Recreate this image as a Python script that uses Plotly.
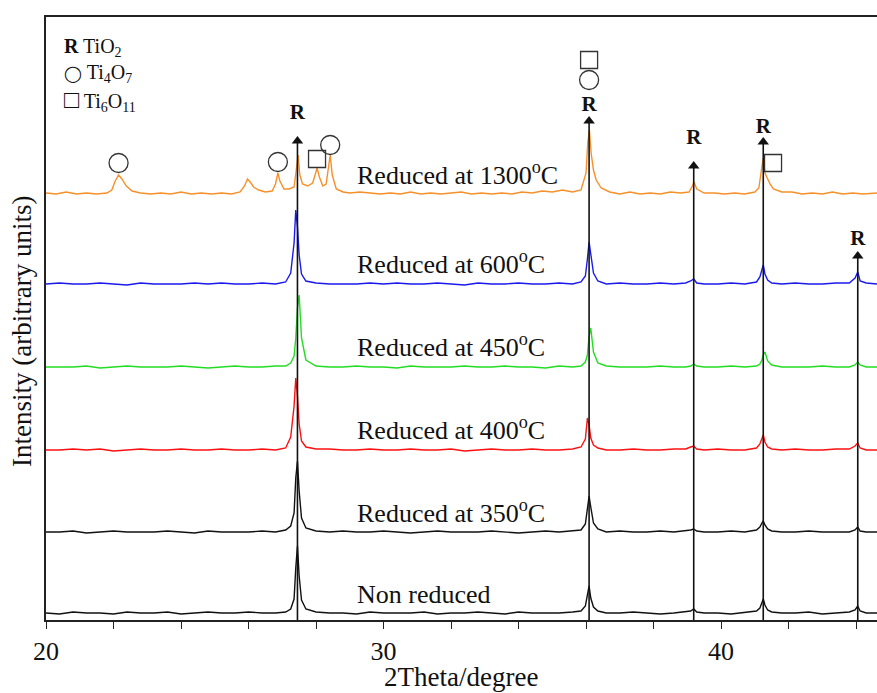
import plotly.graph_objects as go

# ---------------- data ----------------
# 2theta grid shared by the rutile-only patterns
two_theta = [
    20.0, 20.4, 20.8, 21.2, 21.6, 22.0, 22.4, 22.8, 23.2, 23.6, 24.0, 24.4, 24.8, 25.2, 25.6, 26.0, 26.4, 26.8, 27.1,
    27.25, 27.35, 27.40, 27.45, 27.50, 27.57, 27.7,
    28.0, 28.4, 28.8, 29.2, 29.6, 30.0, 30.4, 30.8, 31.2, 31.6, 32.0, 32.4, 32.8, 33.2, 33.6, 34.0, 34.4, 34.8, 35.2, 35.6, 35.85,
    35.98, 36.04, 36.09, 36.14, 36.22, 36.35,
    36.6, 37.0, 37.4, 37.8, 38.2, 38.6, 38.95,
    39.1, 39.19, 39.28,
    39.5, 39.9, 40.3, 40.7, 41.05,
    41.15, 41.21, 41.25, 41.3, 41.38, 41.5,
    41.8, 42.2, 42.6, 43.0, 43.4, 43.8,
    43.97, 44.05, 44.12,
    44.3, 44.62,
]

non_reduced = [
    1, 0, 2, 1, 1, 0, 2, 1, 1, 2, 0, 1, 2, 1, 1, 2, 1, 1, 2,
    5, 15, 46, 68, 38, 14, 5,
    2, 1, 1, 0, 2, 1, 1, 1, 2, 0, 1, 1, 2, 1, 0, 2, 1, 1, 1, 2, 3,
    8, 18, 28, 16, 7, 3,
    1, 1, 2, 1, 0, 1, 2,
    3, 5, 2,
    1, 1, 0, 2, 3,
    6, 11, 15, 9, 4, 2,
    1, 1, 2, 0, 1, 2,
    4, 8, 3,
    1, 1,
]

reduced_350 = [
    1, 1, 2, 0, 1, 2, 1, 1, 1, 2, 1, 0, 2, 1, 1, 1, 2, 1, 3,
    7, 20, 55, 72, 42, 15, 5,
    2, 1, 2, 1, 1, 2, 1, 0, 1, 2, 1, 1, 1, 2, 1, 0, 1, 2, 1, 2, 3,
    9, 24, 37, 26, 10, 4,
    1, 2, 1, 1, 2, 1, 2,
    3, 4, 2,
    1, 1, 2, 1, 3,
    6, 10, 12, 8, 4, 2,
    1, 1, 2, 1, 1, 1,
    3, 6, 2,
    1, 1,
]

reduced_400 = [
    1, 1, 2, 1, 2, 0, 1, 2, 1, 1, 2, 1, 1, 2, 1, 1, 2, 1, 3,
    14, 45, 73, 55, 27, 10, 4,
    2, 2, 1, 1, 2, 1, 1, 2, 1, 1, 2, 0, 1, 2, 1, 1, 2, 1, 1, 2, 4,
    12, 33, 26, 13, 6, 3,
    1, 1, 2, 1, 1, 2, 2,
    4, 5, 2,
    1, 2, 1, 1, 3,
    7, 12, 16, 9, 4, 2,
    1, 2, 1, 1, 2, 2,
    5, 8, 3,
    1, 1,
]

reduced_450 = [
    1, 1, 1, 2, 0, 1, 2, 1, 1, 1, 2, 1, 0, 1, 2, 1, 1, 2, 2,
    5, 12, 30, 60, 73, 30, 8,
    2, 1, 1, 2, 1, 1, 0, 2, 1, 1, 1, 2, 1, 1, 2, 1, 1, 0, 2, 1, 2,
    6, 13, 32, 40, 16, 5,
    2, 1, 1, 1, 2, 1, 1,
    2, 4, 2,
    1, 1, 2, 1, 2,
    4, 8, 13, 16, 7, 3,
    1, 1, 1, 2, 1, 1,
    3, 6, 3,
    1, 1,
]

reduced_600 = [
    1, 2, 1, 1, 2, 1, 0, 2, 1, 1, 1, 2, 1, 2, 1, 1, 2, 1, 3,
    12, 42, 75, 58, 30, 11, 4,
    2, 1, 1, 1, 2, 1, 2, 1, 1, 2, 1, 0, 2, 1, 1, 2, 1, 1, 2, 1, 3,
    9, 26, 43, 31, 12, 4,
    1, 2, 1, 1, 2, 1, 2,
    4, 6, 2,
    1, 1, 2, 1, 3,
    8, 15, 20, 11, 5, 2,
    1, 2, 1, 1, 2, 2,
    7, 13, 4,
    2, 1,
]

# 1300 C pattern has its own grid (extra Magneli-phase peaks)
two_theta_1300 = [
    20.0, 20.3, 20.6, 20.9, 21.2, 21.5, 21.8,
    21.95, 22.05, 22.15, 22.25, 22.38, 22.55,
    22.8, 23.1, 23.4, 23.7, 24.0, 24.3, 24.6, 24.9, 25.2, 25.5, 25.75,
    25.88, 25.97, 26.05, 26.15, 26.3,
    26.5, 26.7,
    26.8, 26.87, 26.93, 27.05,
    27.2, 27.35,
    27.42, 27.47, 27.52, 27.6,
    27.75, 27.9,
    27.98, 28.03, 28.1,
    28.2, 28.3,
    28.37, 28.42, 28.48,
    28.6, 28.8, 29.0, 29.3, 29.6, 29.9, 30.2, 30.5, 30.8, 31.1, 31.4, 31.7, 32.0, 32.3, 32.6, 32.9,
    33.2, 33.5, 33.8, 34.1, 34.4, 34.7, 35.0, 35.3, 35.6, 35.85,
    36.0, 36.05, 36.1, 36.15, 36.22, 36.3, 36.45,
    36.7, 37.0, 37.3, 37.6, 37.9, 38.2, 38.5, 38.8, 39.05,
    39.15, 39.2, 39.28,
    39.5, 39.8, 40.1, 40.4, 40.7, 41.0, 41.12,
    41.2, 41.25, 41.3, 41.38, 41.45, 41.55,
    41.8, 42.1, 42.4, 42.7, 43.0, 43.3, 43.6, 43.9, 44.2, 44.62,
]

reduced_1300 = [
    2, 1, 3, 1, 2, 1, 2,
    5, 14, 20, 16, 9, 4,
    2, 1, 2, 1, 3, 1, 2, 1, 2, 1, 3,
    9, 16, 13, 8, 5,
    3, 4,
    11, 22, 14, 6,
    6, 8,
    24, 40, 20, 11,
    9, 12,
    21, 27, 18,
    9, 11,
    28, 40, 20,
    6, 3, 2, 3, 2, 1, 2, 1, 3, 1, 2, 1, 2, 3, 1, 2,
    1, 2, 1, 3, 2, 4, 3, 5, 3, 5,
    22, 52, 65, 42, 25, 15, 7,
    3, 1, 3, 1, 2, 1, 3, 2, 3,
    9, 13, 6,
    2, 2, 1, 2, 1, 3, 7,
    26, 37, 22, 16, 11, 6,
    3, 3, 1, 2, 1, 3, 1, 2, 1, 2,
]

sample_labels = [
    "Non reduced",
    "Reduced at 350<sup>o</sup>C",
    "Reduced at 400<sup>o</sup>C",
    "Reduced at 450<sup>o</sup>C",
    "Reduced at 600<sup>o</sup>C",
    "Reduced at 1300<sup>o</sup>C",
]
stack_offsets = [6, 87, 169, 252, 335, 425]

# phase markers
rutile_peaks = [27.45, 36.09, 39.19, 41.25, 44.05]
rutile_arrow_top = [482, 502, 457, 481, 367]
rutile_label_y = [506, 514, 481, 492, 380]
ti4o7_x = [22.15, 26.87, 28.42, 36.09]
ti4o7_y = [457, 458, 475, 540]
ti6o11_x = [28.03, 36.09, 41.54]
ti6o11_y = [461, 560, 457]

x_ticks = [20, 30, 40]

# ---------------- styling ----------------
FONT = "Liberation Serif, Times New Roman, serif"
colors = ["#111111", "#111111", "#ff1010", "#22dd22", "#1a1aee", "#f7902a"]
label_y = [26, 109, 192, 275, 358, 447]
label_x = 29.15

fig = go.Figure()

series = [
    (two_theta, non_reduced),
    (two_theta, reduced_350),
    (two_theta, reduced_400),
    (two_theta, reduced_450),
    (two_theta, reduced_600),
    (two_theta_1300, reduced_1300),
]
for (xs, ys), off, col in zip(series, stack_offsets, colors):
    assert len(xs) == len(ys)
    fig.add_trace(go.Scatter(
        x=xs, y=[v + off for v in ys], mode="lines",
        line=dict(color=col, width=1.4), showlegend=False, hoverinfo="skip",
    ))

# rutile arrows (lines from the axis to the arrow tip)
ax_x, ax_y = [], []
for p, t in zip(rutile_peaks, rutile_arrow_top):
    ax_x += [p, p, None]
    ax_y += [0, t - 4, None]
fig.add_trace(go.Scatter(x=ax_x, y=ax_y, mode="lines",
                         line=dict(color="#111111", width=1.6),
                         showlegend=False, hoverinfo="skip"))
fig.add_trace(go.Scatter(x=rutile_peaks, y=[t - 3 for t in rutile_arrow_top], mode="markers",
                         marker=dict(symbol="triangle-up", size=10, color="#111111"),
                         showlegend=False, hoverinfo="skip"))
fig.add_trace(go.Scatter(x=rutile_peaks, y=rutile_label_y, mode="text",
                         text=["<b>R</b>"] * len(rutile_peaks),
                         textfont=dict(family=FONT, size=21, color="#111111"),
                         showlegend=False, hoverinfo="skip"))

fig.add_trace(go.Scatter(x=ti4o7_x, y=ti4o7_y, mode="markers",
                         marker=dict(symbol="circle-open", size=19, color="#333333",
                                     line=dict(color="#333333", width=1.3)),
                         showlegend=False, hoverinfo="skip"))
fig.add_trace(go.Scatter(x=ti6o11_x, y=ti6o11_y, mode="markers",
                         marker=dict(symbol="square-open", size=17, color="#333333",
                                     line=dict(color="#333333", width=1.3)),
                         showlegend=False, hoverinfo="skip"))

annotations = []
for lab, ly in zip(sample_labels, label_y):
    annotations.append(dict(x=label_x, y=ly, xref="x", yref="y", text=lab, showarrow=False,
                            xanchor="left", yanchor="middle",
                            font=dict(family=FONT, size=26, color="#111111")))

legend_lines = [
    "<b>R</b> TiO<sub>2</sub>",
    "<span style='font-size:16px'>\u25ef</span> Ti<sub>4</sub>O<sub>7</sub>",
    "<span style='font-size:25px'>\u25a1</span> Ti<sub>6</sub>O<sub>11</sub>",
]
for i, t in enumerate(legend_lines):
    annotations.append(dict(x=16 / 831, y=(620 - 47 - 26.5 * i) / 603, xref="paper", yref="paper",
                            text=t, showarrow=False, xanchor="left", yanchor="middle",
                            font=dict(family=FONT, size=20, color="#111111")))

annotations.append(dict(x=(461 - 46) / 831, y=(620 - 677) / 603, xref="paper", yref="paper",
                        text="2Theta/degree", showarrow=False, xanchor="center", yanchor="middle",
                        font=dict(family=FONT, size=27, color="#111111")))
annotations.append(dict(x=(22 - 46) / 831, y=(620 - 332) / 603, xref="paper", yref="paper",
                        text="Intensity (arbitrary units)", showarrow=False, textangle=-90,
                        xanchor="center", yanchor="middle",
                        font=dict(family=FONT, size=27, color="#111111")))

fig.update_layout(
    width=877, height=693,
    margin=dict(l=46, r=0, t=17, b=73),
    paper_bgcolor="white", plot_bgcolor="white",
    annotations=annotations,
    xaxis=dict(range=[20, 44.62], tickvals=x_ticks, ticks="outside", ticklen=7,
               tickwidth=1, tickcolor="#222222",
               minor=dict(dtick=2, tick0=20, ticks="outside", ticklen=7, tickcolor="#222222"),
               showline=True, linecolor="#222222", linewidth=1.5, mirror=True,
               showgrid=False, zeroline=False,
               tickfont=dict(family=FONT, size=26, color="#111111")),
    yaxis=dict(range=[0, 603], showticklabels=False, ticks="",
               showline=True, linecolor="#222222", linewidth=1.5, mirror=False,
               showgrid=False, zeroline=False),
)

fig.write_html("out.html")
